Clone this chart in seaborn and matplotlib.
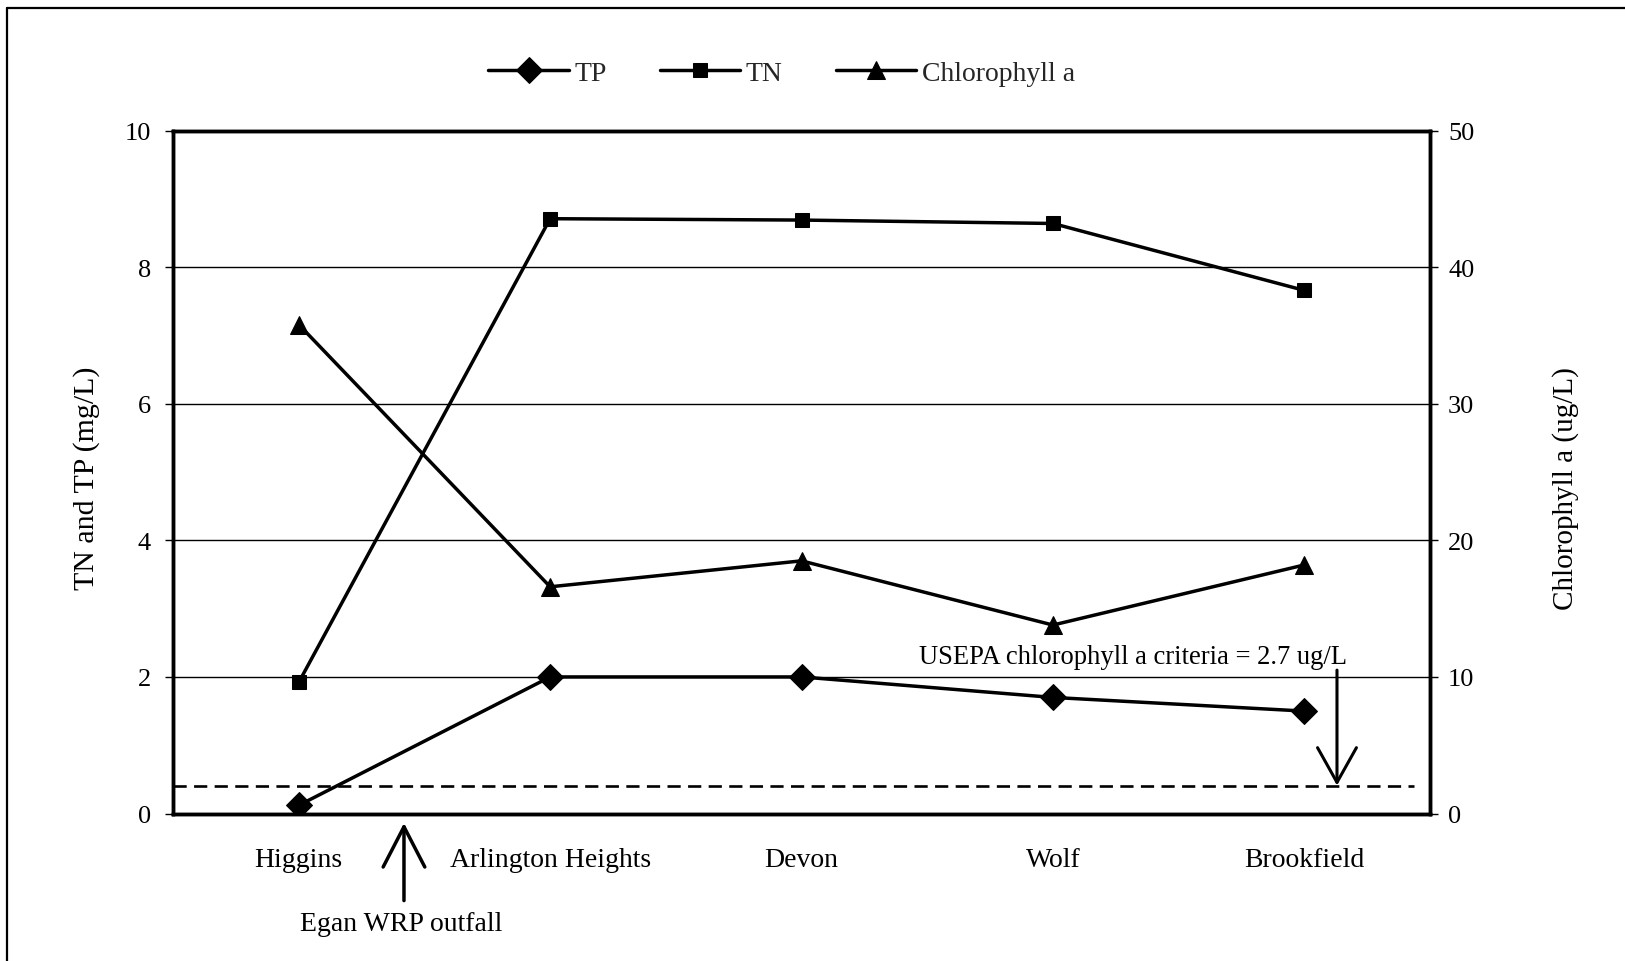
import matplotlib.pyplot as plt
import pandas as pd
import seaborn as sns
from matplotlib.lines import Line2D


sites = ["Higgins", "Arlington Heights", "Devon", "Wolf", "Brookfield"]
tp = [0.12, 2.0, 2.0, 1.7, 1.5]
tn = [1.92, 8.71, 8.69, 8.64, 7.66]
chl = [35.8, 16.6, 18.5, 13.8, 18.2]
criteria_level = 2.05  # where the dashed criteria line sits on the chlorophyll axis
left_ticks = [0, 2, 4, 6, 8, 10]
right_ticks = [0, 10, 20, 30, 40, 50]

sns.set_theme(style="white")
plt.rcParams["font.family"] = ["Liberation Serif", "DejaVu Serif"]

df = pd.DataFrame({"site": sites, "TP": tp, "TN": tn, "Chlorophyll a": chl})

fig = plt.figure(figsize=(16.25, 9.62), dpi=100)
ax = fig.add_axes([0.1065, 0.1533, 0.7735, 0.7099])
ax2 = ax.twinx()

line_kw = dict(color="black", linewidth=2.5, markeredgecolor="black", legend=False)
sns.lineplot(data=df, x="site", y="TP", marker="D", markersize=13, label="TP", ax=ax, **line_kw)
sns.lineplot(data=df, x="site", y="TN", marker="s", markersize=10.5, label="TN", ax=ax, **line_kw)
sns.lineplot(data=df, x="site", y="Chlorophyll a", marker="^", markersize=13,
             label="Chlorophyll a", ax=ax2, **line_kw)

# criteria line
ax2.axhline(criteria_level, xmin=0, xmax=0.987, color="black", lw=1.9,
            linestyle=(0, (5, 2.8)))

ax.set_ylim(0, 10)
ax2.set_ylim(0, 50)
ax.set_yticks(left_ticks)
ax2.set_yticks(right_ticks)
ax.set_xlim(-0.5, len(sites) - 0.5)

ax.set_xticks(range(len(sites)))
ax.set_xticklabels(sites)
ax.set_xticks([i - 0.5 for i in range(len(sites) + 1)], minor=True)
ax.tick_params(axis="x", which="major", length=0, pad=24, labelsize=20, labelcolor="black")
ax.tick_params(axis="x", which="minor", length=13, width=0.9, direction="inout", color="black")
ax.tick_params(axis="y", length=6, width=1, pad=10, labelsize=19, color="black",
               labelcolor="black", left=True)
ax2.tick_params(axis="y", length=6, width=1, pad=7, labelsize=19, color="black",
                labelcolor="black", right=True)

ax.yaxis.grid(True, color="black", lw=1)
ax.xaxis.grid(False)
ax2.grid(False)

for a in (ax, ax2):
    for s in a.spines.values():
        s.set_visible(True)
        s.set_color("black")
        s.set_linewidth(2.5)

ax.set_xlabel("")
ax.set_ylabel("TN and TP (mg/L)", fontsize=21.5, color="black", va="center")
ax.yaxis.set_label_coords(-0.0688, 0.4928)
ax2.set_ylabel("Chlorophyll a (ug/L)", fontsize=21, color="black", va="center")
ax2.yaxis.set_label_coords(1.108, 0.4767)

# USEPA criteria annotation
ax2.annotate("", xy=(4.13, criteria_level), xytext=(4.13, 10.5),
             arrowprops=dict(arrowstyle="->,head_length=1.25,head_width=0.7",
                             mutation_scale=20, lw=2.2, color="black",
                             shrinkA=0, shrinkB=0))
ax2.text(3.32, 11.47, "USEPA chlorophyll a criteria = 2.7 ug/L", fontsize=19.2,
         ha="center", va="center", color="black")

# Egan WRP outfall arrow below the axis
ax.annotate("", xy=(0.2486, 0.1435), xytext=(0.2486, 0.0628),
            xycoords="figure fraction", textcoords="figure fraction",
            arrowprops=dict(arrowstyle="->,head_length=1.45,head_width=0.75",
                            mutation_scale=20, lw=2.5, color="black",
                            shrinkA=0, shrinkB=0))
fig.text(0.247, 0.0394, "Egan WRP outfall", fontsize=20, ha="center", va="center",
         color="black")

# legend across the top
handles, labels = ax.get_legend_handles_labels()
h2, l2 = ax2.get_legend_handles_labels()
fig.legend(handles + h2, labels + l2, loc="center", bbox_to_anchor=(0.481, 0.923),
           ncol=3, frameon=False, fontsize=20, handlelength=2.9, handletextpad=0.2,
           columnspacing=1.9)

# scanned page frame (top and left edges only)
fig.add_artist(Line2D([0.0045, 1.0], [0.9903, 0.9903], transform=fig.transFigure,
                      color="black", lw=1.6))
fig.add_artist(Line2D([0.0045, 0.0045], [0.0, 0.9903], transform=fig.transFigure,
                      color="black", lw=1.6))

fig.savefig("out.png", dpi=100)
